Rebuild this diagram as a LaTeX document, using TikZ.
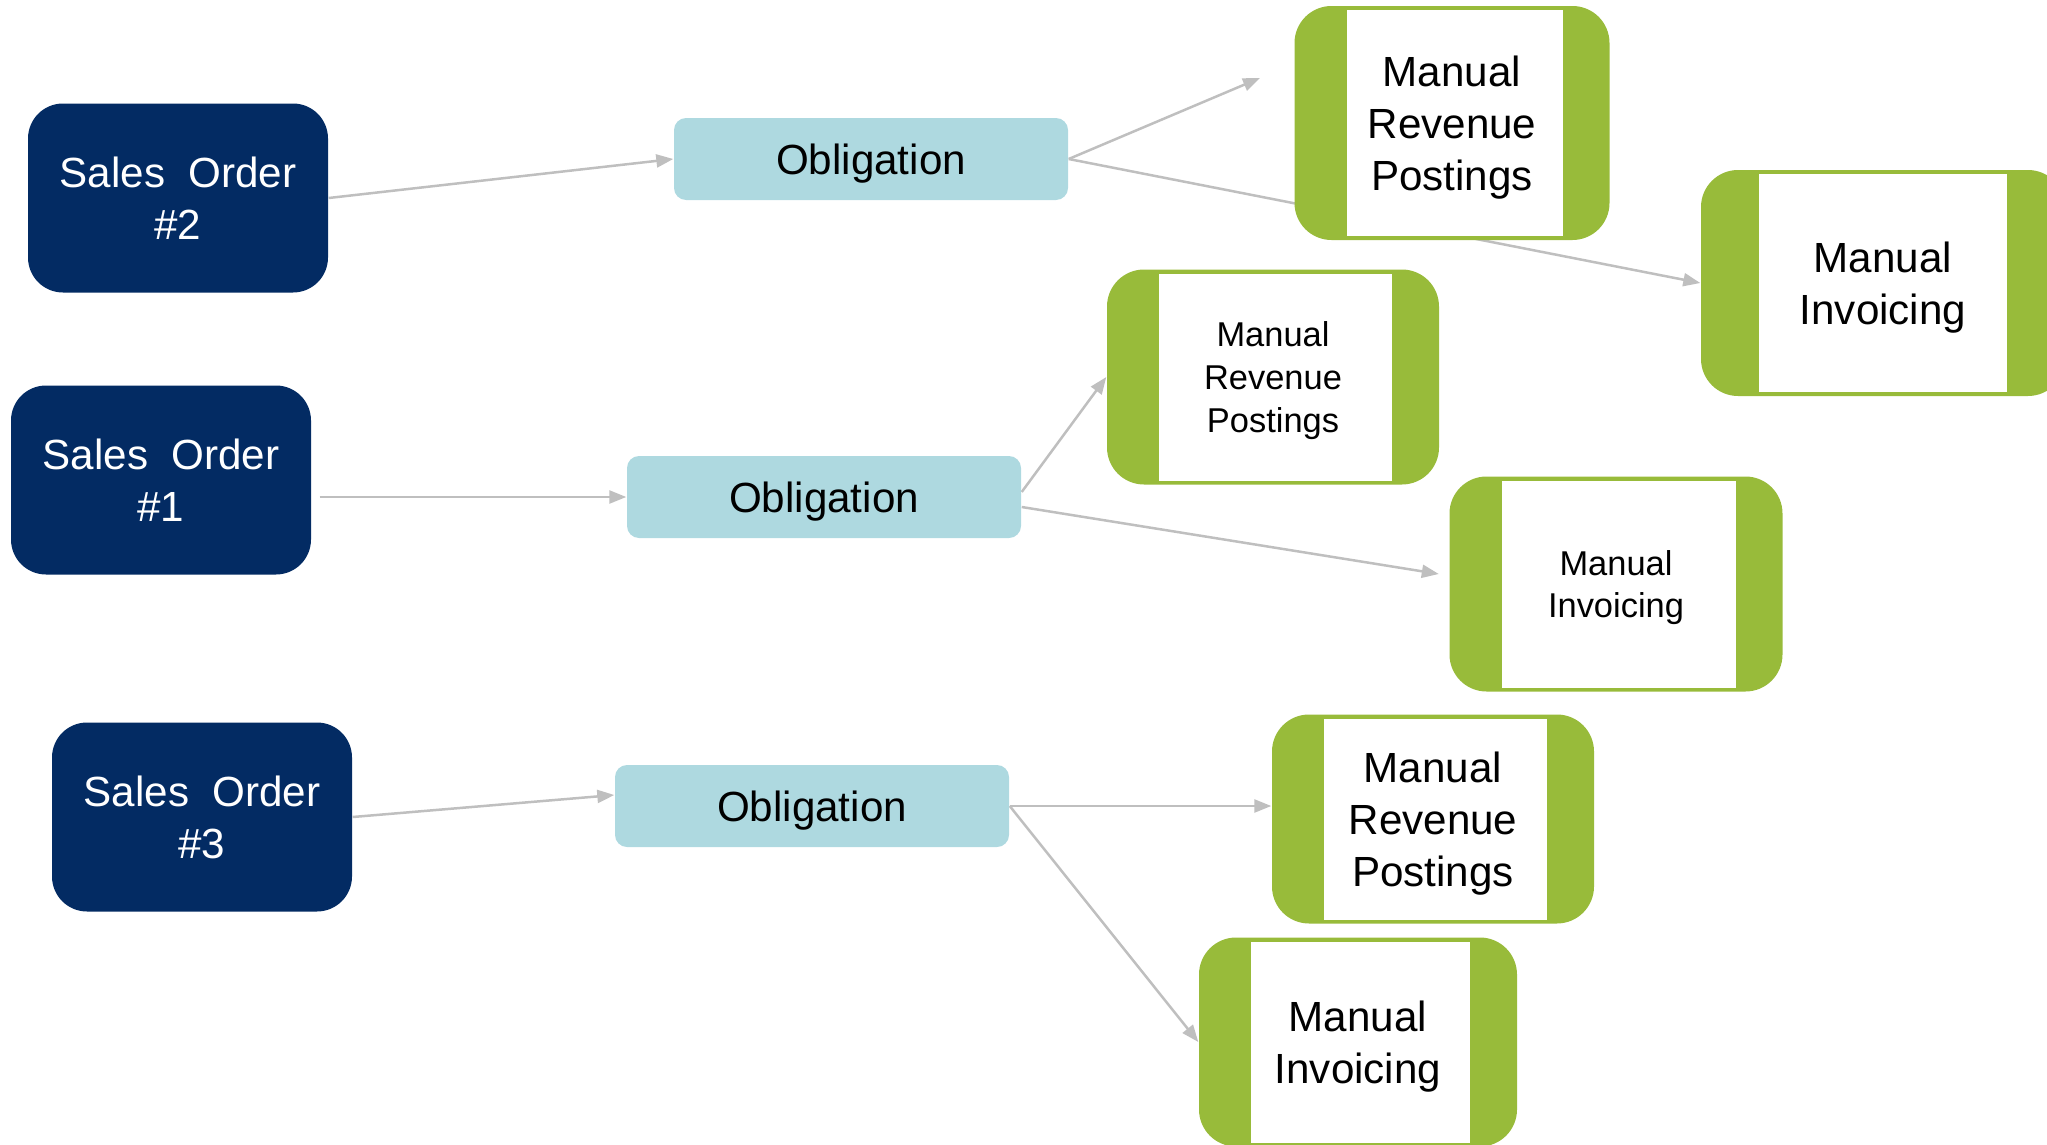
\documentclass[tikz,border=0pt]{standalone}
\usepackage{fontspec}
\setmainfont{Liberation Sans}
\usetikzlibrary{arrows.meta,backgrounds}

\definecolor{navy}{RGB}{3,43,99}
\definecolor{powder}{RGB}{174,217,224}
\definecolor{leaf}{RGB}{152,187,58}
\definecolor{wire}{RGB}{191,191,191}

\tikzset{
  big/.style={font=\fontsize{12}{14.8}\selectfont},
  small/.style={font=\fontsize{9.8}{12.2}\selectfont},
  order/.style={big, fill=navy, text=white, rounded corners=3.5mm, inner sep=0pt,
    minimum width=30mm, minimum height=18.9mm, align=center},
  duty/.style={big, fill=powder, rounded corners=1.2mm, inner sep=0pt, text depth=0pt,
    minimum width=39.4mm, minimum height=8.2mm},
  task/.style={big, fill=leaf, rounded corners=3.7mm, inner sep=0pt, align=center,
    text depth=0pt,
    path picture={\fill[white, sharp corners]
      ([xshift=5.2mm,yshift=.4mm]path picture bounding box.south west) rectangle
      ([xshift=-4.7mm,yshift=-.4mm]path picture bounding box.north east);}},
  wide task/.style={task,
    path picture={\fill[white, sharp corners]
      ([xshift=5.8mm,yshift=.4mm]path picture bounding box.south west) rectangle
      ([xshift=-5.8mm,yshift=-.4mm]path picture bounding box.north east);}},
  link/.style={draw=wire, line width=.25mm, -{Triangle[length=1.7mm,width=1.3mm]}}
}

\begin{document}
\begin{tikzpicture}[x=.1mm,y=-.1mm]
\clip (0,0) rectangle (2047,1145);

% sales orders and their obligations
\foreach \n/\x/\y in {2/178/198, 1/161/480, 3/202/817}
  \node [order] (so\n) at (\x,\y) {Sales~ Order\\\#\n};

\foreach \n/\x/\y in {2/871/159, 1/824/497, 3/812/806}
  \node [duty] (ob\n) at (\x,\y) {Obligation};

% manual steps
\node [task, minimum width=31.5mm, minimum height=23.4mm] (mrp2) at (1452,123)
  {Manual\\Revenue\\Postings};
\node [wide task, minimum width=36.4mm, minimum height=22.6mm] (mi2) at (1883,283)
  {Manual\\Invoicing};
\node [task, small, minimum width=33.2mm, minimum height=21.5mm] (mrp1) at (1273,377)
  {Manual\\Revenue\\Postings};
\node [task, small, minimum width=33.3mm, minimum height=21.5mm] (mi1) at (1616,584)
  {Manual\\Invoicing};
\node [task, minimum width=32.2mm, minimum height=20.9mm] (mrp3) at (1433,819)
  {Manual\\Revenue\\Postings};
\node [task, minimum width=31.8mm, minimum height=20.9mm] (mi3) at (1358,1042)
  {Manual\\Invoicing};

\coordinate (open) at (1260,78);

\begin{scope}[on background layer]
\foreach \a/\b in {so2/ob2, ob3/mi3}
  \draw [link] (\a.east) -- (\b.west);
\draw [link, shorten <=.8mm] (so1.east |- ob1.west) -- (ob1.west);
\draw [link] (so3.east) -- ([yshift=1.1mm]ob3.west);
\draw [link] (ob2.east) -- (open);
\draw [link] (ob2.east) -- (mi2.west);
\draw [link] ([yshift=.5mm]ob1.east) -- (mrp1.west);
\draw [link] ([yshift=-1mm]ob1.east) -- ([xshift=-1mm,yshift=1mm]mi1.west);
\draw [link] (ob3.east) -- (ob3.east -| mrp3.west);
\end{scope}
\end{tikzpicture}
\end{document}
